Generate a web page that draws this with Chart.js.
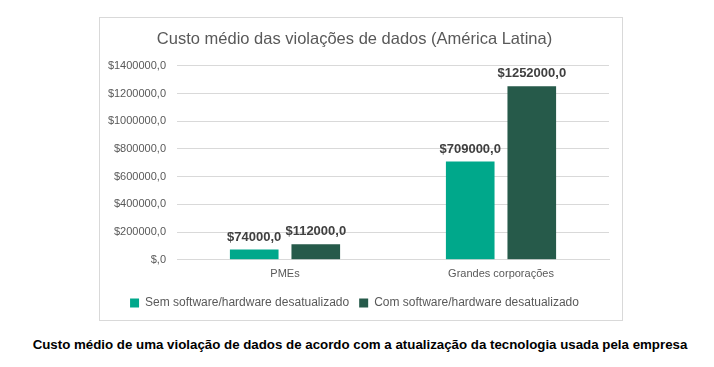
<!DOCTYPE html>
<html>
<head>
<meta charset="utf-8">
<script src="https://cdn.jsdelivr.net/npm/chart.js@4"></script>
<style>
  body { margin: 0; background: #fff; width: 714px; height: 367px; position: relative; overflow: hidden; }
  #box { position: absolute; left: 99px; top: 17px; width: 522px; height: 302px; border: 1px solid #d9d9d9; }
  #caption { position: absolute; left: 3px; top: 337px; width: 714px; text-align: center;
    font-family: "Liberation Sans", Arial, sans-serif; font-weight: bold; font-size: 13.3px; color: #000; }
</style>
</head>
<body>
<div id="box"><canvas id="chart" width="522" height="302"></canvas></div>
<div id="caption">Custo médio de uma violação de dados de acordo com a atualização da tecnologia usada pela empresa</div>
<script>
var categories = ['PMEs', 'Grandes corporações'];
var seriesNames = ['Sem software/hardware desatualizado', 'Com software/hardware desatualizado'];
var semValues = [74000, 709000];
var comValues = [112000, 1252000];
var yTicks = [0, 200000, 400000, 600000, 800000, 1000000, 1200000, 1400000];

function money(v) {
    return '$' + (v === 0 ? '' : v) + ',0';
}

var labelPlugin = {
    id: 'barLabels',
    afterDatasetsDraw: function(chart) {
        var ctx = chart.ctx;
        ctx.save();
        ctx.font = 'bold 13px "Liberation Sans", Arial, sans-serif';
        ctx.fillStyle = '#404040';
        ctx.textAlign = 'center';
        ctx.textBaseline = 'bottom';
        chart.data.datasets.forEach(function(ds, i) {
            var meta = chart.getDatasetMeta(i);
            meta.data.forEach(function(bar, j) {
                ctx.fillText(money(ds.data[j]), bar.x, bar.y - 6);
            });
        });
        ctx.restore();
    }
};

var ctx = document.getElementById('chart').getContext('2d');
var myChart = new Chart(ctx, {
    type: 'bar',
    data: {
        labels: categories,
        datasets: [{
            label: seriesNames[0],
            data: semValues,
            backgroundColor: '#00a88b',
            categoryPercentage: 0.57,
            barPercentage: 0.79
        }, {
            label: seriesNames[1],
            data: comValues,
            backgroundColor: '#265a4a',
            categoryPercentage: 0.57,
            barPercentage: 0.79
        }]
    },
    options: {
        responsive: false,
        animation: false,
        layout: { padding: { left: 0, right: 13, top: 0, bottom: 1 } },
        plugins: {
            title: {
                display: true,
                text: 'Custo médio das violações de dados (América Latina)',
                color: '#595959',
                font: { family: '"Liberation Sans", Arial, sans-serif', size: 16.5, weight: 'normal' },
                padding: { top: 12, bottom: 16 }
            },
            legend: {
                position: 'bottom',
                labels: {
                    boxWidth: 9, boxHeight: 9,
                    color: '#595959',
                    font: { family: '"Liberation Sans", Arial, sans-serif', size: 12 },
                    padding: 10
                }
            },
            tooltip: { enabled: false }
        },
        scales: {
            x: {
                afterFit: function(scale) { scale.height += 6; },
                grid: { display: false },
                border: { color: '#d9d9d9' },
                ticks: { color: '#595959', font: { family: '"Liberation Sans", Arial, sans-serif', size: 11 }, padding: 0 }
            },
            y: {
                min: 0,
                max: 1400000,
                afterBuildTicks: function(scale) {
                    scale.ticks = yTicks.map(function(v) { return { value: v }; });
                },
                afterFit: function(scale) { scale.width = 77; },
                grid: { color: '#d9d9d9', drawTicks: false },
                border: { display: false },
                ticks: {
                    color: '#595959',
                    font: { family: '"Liberation Sans", Arial, sans-serif', size: 11 },
                    padding: 11,
                    callback: function(v) { return money(v); }
                }
            }
        }
    },
    plugins: [labelPlugin]
});
</script>
</body>
</html>
